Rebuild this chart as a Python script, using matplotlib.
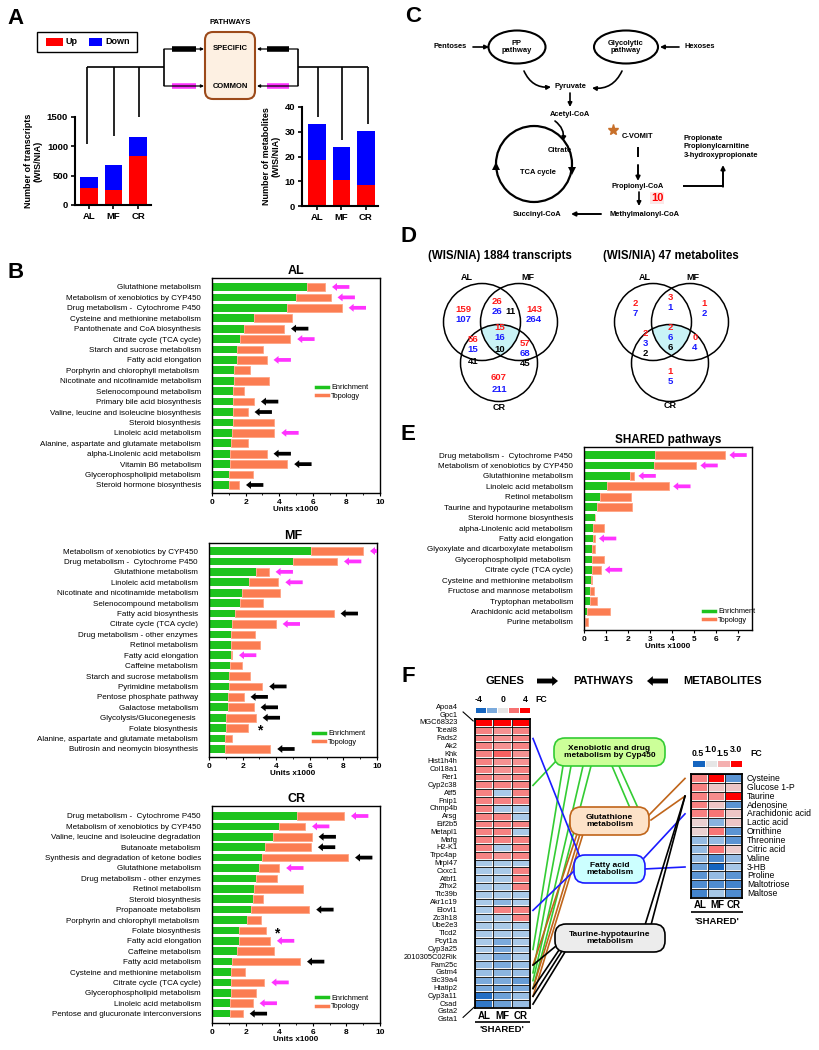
import numpy as np
import matplotlib
matplotlib.use('Agg')
import matplotlib.pyplot as plt
from matplotlib.patches import Circle, Ellipse, FancyBboxPatch, Rectangle, Polygon
from matplotlib.lines import Line2D
from matplotlib.colors import LinearSegmentedColormap
import matplotlib.transforms as mtransforms

plt.rcParams['font.family'] = ['Liberation Sans', 'DejaVu Sans']

# ---------------- DATA ----------------
groups = ['AL', 'MF', 'CR']
transcripts_up = [285, 260, 830]
transcripts_down = [190, 425, 330]
metabolites_up = [18.5, 10.5, 8.5]
metabolites_down = [14.5, 13.5, 21.8]

al_names = ['Glutathione metabolism', 'Metabolism of xenobiotics by CYP450',
            'Drug metabolism -  Cytochrome P450', 'Cysteine and methionine metabolism',
            'Pantothenate and CoA biosynthesis', 'Citrate cycle (TCA cycle)',
            'Starch and sucrose metabolism', 'Fatty acid elongation',
            'Porphyrin and chlorophyll metabolism ', 'Nicotinate and nicotinamide metabolism',
            'Selenocompound metabolism', 'Primary bile acid biosynthesis',
            'Valine, leucine and isoleucine biosynthesis', 'Steroid biosynthesis',
            'Linoleic acid metabolism', 'Alanine, aspartate and glutamate metabolism',
            'alpha-Linolenic acid metabolism', 'Vitamin B6 metabolism',
            'Glycerophospholipid metabolism', 'Steroid hormone biosynthesis']
al_enrich = [5.63, 5.0, 4.44, 2.5, 1.92, 1.67, 1.51, 1.47, 1.33, 1.29,
             1.27, 1.27, 1.23, 1.23, 1.17, 1.13, 1.07, 1.07, 1.03, 1.03]
al_topo = [1.10, 2.06, 3.28, 2.24, 2.37, 2.99, 1.51, 1.78, 0.95, 2.12,
           0.65, 1.23, 0.89, 2.46, 2.54, 1.01, 2.18, 3.41, 1.39, 0.58]
al_marks = ['m', 'm', 'm', '', 'k', 'm', '', 'm', '', '', '', 'k', 'k', '', 'm', '', 'k', 'k', '', 'k']

mf_names = ['Metabolism of xenobiotics by CYP450', 'Drug metabolism -  Cytochrome P450',
            'Glutathione metabolism', 'Linoleic acid metabolism',
            'Nicotinate and nicotinamide metabolism', 'Selenocompound metabolism',
            'Fatty acid biosynthesis', 'Citrate cycle (TCA cycle)',
            'Drug metabolism - other enzymes', 'Retinol metabolism', 'Fatty acid elongation',
            'Caffeine metabolism', 'Starch and sucrose metabolism', 'Pyrimidine metabolism',
            'Pentose phosphate pathway', 'Galactose metabolism', 'Glycolysis/Gluconegenesis ',
            'Folate biosynthesis', 'Alanine, aspartate and glutamate metabolism',
            'Butirosin and neomycin biosynthesis']
mf_enrich = [6.09, 5.0, 2.78, 2.36, 1.98, 1.83, 1.53, 1.39, 1.33, 1.33,
             1.29, 1.23, 1.19, 1.17, 1.13, 1.13, 1.03, 0.99, 0.97, 0.93]
mf_topo = [3.08, 2.62, 0.77, 1.77, 2.22, 1.38, 5.89, 2.58, 1.39, 1.69,
           0.08, 0.73, 1.27, 2.0, 0.93, 1.53, 1.75, 1.35, 0.40, 2.72]
mf_marks = ['m', 'm', 'm', 'm', '', '', 'k', 'm', '', '', 'm', '', '', 'k', 'k', 'k', 'k', '*', '', 'k']

cr_names = ['Drug metabolism -  Cytochrome P450', 'Metabolism of xenobiotics by CYP450',
            'Valine, leucine and isoleucine degradation', 'Butanoate metabolism',
            'Synthesis and degradation of ketone bodies', 'Glutathione metabolism',
            'Drug metabolism - other enzymes', 'Retinol metabolism', 'Steroid biosynthesis',
            'Propanoate metabolism', 'Porphyrin and chlorophyll metabolism ',
            'Folate biosynthesis', 'Fatty acid elongation', 'Caffeine metabolism',
            'Fatty acid metabolism', 'Cysteine and methionine metabolism',
            'Citrate cycle (TCA cycle)', 'Glycerophospholipid metabolism',
            'Linoleic acid metabolism', 'Pentose and glucuronate interconversions']
cr_enrich = [5.08, 4.0, 3.65, 3.15, 2.96, 2.82, 2.62, 2.5, 2.42, 2.32,
             2.06, 1.63, 1.61, 1.51, 1.17, 1.13, 1.13, 1.11, 1.07, 1.07]
cr_topo = [2.78, 1.54, 2.28, 2.74, 5.14, 1.18, 1.27, 2.9, 0.6, 3.47,
           0.86, 1.58, 1.84, 2.18, 4.07, 0.83, 1.99, 1.49, 1.35, 0.76]
cr_marks = ['m', 'm', 'k', 'k', 'k', 'm', '', '', '', 'k', '', '*', 'm', '', 'k', '', 'm', '', 'm', 'k']

sh_names = ['Drug metabolism -  Cytochrome P450', 'Metabolism of xenobiotics by CYP450',
            'Glutathionine metabolism', 'Linoleic acid metabolism', 'Retinol metabolism',
            'Taurine and hypotaurine metabolism', 'Steroid hormone biosynthesis',
            'alpha-Linolenic acid metabolism', 'Fatty acid elongation',
            'Glyoxylate and dicarboxylate metabolism', 'Glycerophospholipid metabolism ',
            'Citrate cycle (TCA cycle)', 'Cysteine and methionine metabolism',
            'Fructose and mannose metabolism', 'Tryptophan metabolism',
            'Arachidonic acid metabolism', 'Purine metabolism']
sh_enrich = [3.23, 3.19, 2.09, 1.07, 0.72, 0.59, 0.52, 0.41, 0.41, 0.37, 0.37, 0.35,
             0.30, 0.27, 0.26, 0.14, 0.06]
sh_topo = [3.2, 1.92, 0.2, 2.8, 1.4, 1.61, 0.0, 0.49, 0.08, 0.12, 0.53, 0.41,
           0.08, 0.17, 0.33, 1.06, 0.14]
sh_marks = ['m', 'm', 'm', 'm', '', '', '', '', 'm', '', '', 'm', '', '', '', '', '']

# Venn counts: (x, y, text, colour)
venn_tr = [(463, 309, '159', 'r'), (463, 319, '107', 'b'),
           (497, 302, '26', 'r'), (497, 312, '26', 'b'), (510, 312, '11', 'k'),
           (534, 309, '143', 'r'), (534, 319, '264', 'b'),
           (500, 328, '15', 'r'), (500, 338, '16', 'b'), (500, 349, '10', 'k'),
           (473, 340, '56', 'r'), (473, 350, '15', 'b'), (473, 361, '41', 'k'),
           (525, 343, '57', 'r'), (525, 353, '68', 'b'), (525, 363, '45', 'k'),
           (499, 378, '607', 'r'), (499, 389, '211', 'b')]
venn_met = [(635, 303, '2', 'r'), (635, 313, '7', 'b'),
            (670, 298, '3', 'r'), (670, 308, '1', 'b'),
            (704, 303, '1', 'r'), (704, 313, '2', 'b'),
            (670, 327, '2', 'r'), (670, 337, '6', 'b'), (670, 347, '6', 'k'),
            (645, 334, '2', 'r'), (645, 344, '3', 'b'), (645, 354, '2', 'k'),
            (695, 338, '0', 'r'), (695, 348, '4', 'b'),
            (670, 372, '1', 'r'), (670, 382, '5', 'b')]

gene_labels = ['Apoa4', 'Gpc1', 'MGC68323', 'Tceal8', 'Fads2', 'Ak2', 'Khk', 'Hist1h4h',
               'Col18a1', 'Rer1', 'Cyp2c38', 'Atf5', 'Fnip1', 'Chmp4b', 'Arsg', 'Eif2b5',
               'Metapl1', 'Mafg', 'H2-K1', 'Trpc4ap', 'Mrpl47', 'Cxxc1', 'Atbf1', 'Zfhx2',
               'Ttc39b', 'Akr1c19', 'Elovl1', 'Zc3h18', 'Ube2e3', 'Tlcd2', 'Pcyt1a',
               'Cyp3a25', '2010305C02Rik', 'Fam25c', 'Gstm4', 'Slc39a4', 'Htatip2',
               'Cyp3a11', 'Csad', 'Gsta2', 'Gsta1']
gene_rows = gene_labels[2:-2]
gene_fc = [
    [4, 4, 4], [2.4, 2.2, 2.4], [2.4, 2.2, 2.4], [2.4, 2.2, 2.4], [2.4, 2.8, 2.2],
    [2.4, 2.2, 2.2], [2.4, 2.2, 2.4], [2.4, 2.2, 2.4], [2.4, 2.4, 2.4], [2.4, -2, 2.4],
    [2.4, 2.4, 2.4], [2.4, -2, -2], [2.4, 2.4, -2], [2.4, 2.4, 2.4], [2.4, 2.4, -2],
    [2.4, 2.4, 2.4], [2.4, -2, 2.4], [2.4, 2.2, 2.4], [-2, -2, -2], [-2, -2, 2.4],
    [-2, -2, 2.4], [-2, -2, 2.4], [-2, -2, -2], [-2, -2.4, -2], [-2, 2.4, 2.4],
    [-2, -2, 2.4], [-2, -2, -2], [-2, -2, -2], [-2, -2.6, -2], [-2, -2.6, -2],
    [-2, -2.6, -2], [-2.2, -2.6, -2.2], [-2.2, -2.4, -2.2], [-2.6, -2.6, -2.9],
    [-2.6, -2.8, -2.6], [-3.8, -2.8, -2.2], [-3.6, -2.8, -2.2]]
gene_cbar = [-4, -2.6, 0, 2.6, 4]

met_labels = ['Cysteine', 'Glucose 1-P', 'Taurine', 'Adenosine', 'Arachidonic acid',
              'Lactic acid', 'Ornithine', 'Threonine', 'Citric acid', 'Valine', '3-HB',
              'Proline', 'Maltotriose', 'Maltose']
met_fc = [
    [1.9, 3.0, 0.62], [1.9, 1.3, 1.3], [1.9, 1.8, 3.0], [1.9, 1.3, 0.62],
    [1.9, 2.0, 1.3], [1.2, 0.7, 1.3], [1.2, 2.0, 0.62], [0.72, 0.72, 0.62],
    [0.72, 2.0, 1.25], [0.72, 0.6, 0.72], [0.65, 0.5, 0.75], [0.62, 0.72, 0.62],
    [0.6, 0.6, 0.58], [0.58, 0.75, 0.6]]
met_cbar = [0.5, 1.0, 1.5, 3.0]

xeno_genes = ['Cyp2c38', 'Cyp3a25', 'Gstm4', 'Slc39a4', 'Htatip2']
glut_genes = ['Fam25c', 'Htatip2', 'Cyp3a11']
glut_mets = ['Cysteine', 'Taurine']
fatty_genes = ['Fads2', 'Elovl1']
fatty_mets = ['Arachidonic acid', '3-HB']
taur_genes = ['Fam25c', 'Htatip2', 'Cyp3a11', 'Csad']
taur_mets = ['Taurine']

# ---------------- STYLE ----------------
GREEN = '#1ec31e'
ORANGE = '#fb7d52'
MAG = '#ff33ff'
RED = '#ff0000'
BLUE = '#0000ff'
CMAP = {'r': '#ff1a1a', 'b': '#1a1aff', 'k': 'black'}

W, H = 819, 1050
fig = plt.figure(figsize=(W / 100, H / 100), dpi=100)


def px_axes(x0, y0, x1, y1, **kw):
    return fig.add_axes([x0 / W, 1 - y1 / H, (x1 - x0) / W, (y1 - y0) / H], **kw)


ov = fig.add_axes([0, 0, 1, 1], zorder=10)
ov.set_xlim(0, W)
ov.set_ylim(H, 0)
ov.axis('off')


def T(x, y, s, size=6, weight='bold', ha='center', va='center', color='black', **kw):
    ov.text(x, y, s, fontsize=size, fontweight=weight, ha=ha, va=va, color=color, **kw)


def seg(x0, y0, x1, y1, lw=1.2, color='black', **kw):
    ov.plot([x0, x1], [y0, y1], color=color, lw=lw, solid_capstyle='butt', **kw)


def arr(x0, y0, x1, y1, lw=1.2, color='black', ms=7, rad=0.0, style='-|>'):
    ov.annotate('', xy=(x1, y1), xytext=(x0, y0), xycoords='data',
                arrowprops=dict(arrowstyle=style, lw=lw, color=color, mutation_scale=ms,
                                shrinkA=0, shrinkB=0, connectionstyle=f'arc3,rad={rad}'))


# panel letters
for lab, (x, y) in zip('ABCDEF', [(16, 18), (16, 273), (413, 17), (408, 236), (408, 434), (408, 677)]):
    T(x, y, lab, size=16)

# ---------------- PANEL A ----------------
xg = np.arange(len(groups))
for box, up, down, yl, yticks, xl, lbl in [
        ((75, 117, 151, 205), transcripts_up, transcripts_down, 1500, [0, 500, 1000, 1500], (-0.57, 2.53),
         'Number of transcripts\n(WIS/NIA)'),
        ((302, 107, 378, 206), metabolites_up, metabolites_down, 40, [0, 10, 20, 30, 40], (-0.61, 2.49),
         'Number of metabolites\n(WIS/NIA)')]:
    ax = px_axes(*box)
    ax.bar(xg, up, width=0.73, color=RED, linewidth=0)
    ax.bar(xg, down, bottom=up, width=0.73, color=BLUE, linewidth=0)
    ax.set_ylim(0, yl)
    ax.set_xlim(*xl)
    ax.set_yticks(yticks)
    ax.set_xticks(xg)
    ax.set_xticklabels(groups)
    for t in ax.get_xticklabels() + ax.get_yticklabels():
        t.set_fontweight('bold')
        t.set_fontsize(6.8)
    ax.tick_params(length=3, width=1.2, pad=2)
    for s in ['top', 'right']:
        ax.spines[s].set_visible(False)
    for s in ['left', 'bottom']:
        ax.spines[s].set_linewidth(1.5)
    ax.set_ylabel(lbl, fontsize=6.5, fontweight='bold', labelpad=3, linespacing=1.1)

# legend A
ov.add_patch(Rectangle((37, 32), 100, 20, fill=False, ec='black', lw=1))
ov.add_patch(Rectangle((46, 38), 17, 8, fc=RED, ec='none'))
ov.add_patch(Rectangle((89, 38), 13, 8, fc=BLUE, ec='none'))
T(65, 42, 'Up', size=6.5, ha='left')
T(105, 42, 'Down', size=6.5, ha='left')

# tree A
for x, yb in [(87, 144), (114, 136), (139, 117)]:
    seg(x, 67, x, yb)
seg(87, 67, 164, 67)
seg(164, 49, 164, 86)
for x, yb in [(318, 117), (342, 140), (368, 124)]:
    seg(x, 67, x, yb)
seg(298, 67, 368, 67)
seg(298, 49, 298, 86)
for y, c in [(49, 'black'), (86, MAG)]:
    arr(164, y, 204, y, lw=0.9, ms=4)
    seg(172, y, 196, y, lw=4, color=c)
    arr(298, y, 257, y, lw=0.9, ms=4)
    seg(267, y, 289, y, lw=4, color=c)
ov.add_patch(FancyBboxPatch((205, 32), 50, 67, boxstyle='round,pad=0,rounding_size=8',
                            fc='#fdf0e2', ec='#9c4a1a', lw=1.5))
T(230, 23, 'PATHWAYS', size=5.5)
T(230, 49, 'SPECIFIC', size=5.5)
T(230, 86, 'COMMON', size=5.5)


# ---------------- BAR PANELS (B, E) ----------------
def bar_panel(box, names, enr, topo, marks, xmax, xticks, minor, title, leg_anchor, ylim, gap=5,
              title_size=9):
    ax = px_axes(*box)
    y = np.arange(len(names))
    ax.barh(y, enr, height=0.74, color=GREEN, linewidth=0)
    ax.barh(y, topo, left=enr, height=0.74, color=ORANGE, edgecolor='#ffa585', linewidth=0.6)
    ax.set_ylim(*ylim)
    ax.set_xlim(0, xmax)
    ax.set_yticks(y)
    ax.set_yticklabels(names, fontsize=5.8)
    ax.tick_params(axis='y', length=0, pad=8)
    ax.set_xticks(xticks)
    ax.set_xticklabels([str(t) for t in xticks], fontsize=6, fontweight='bold')
    ax.set_xticks(minor, minor=True)
    ax.tick_params(axis='x', which='major', length=2.5, width=0.8, pad=1.5)
    ax.tick_params(axis='x', which='minor', length=1.5, width=0.6)
    ax.set_xlabel('Units x1000', fontsize=5.8, fontweight='bold', labelpad=0.5)
    ax.set_title(title, fontsize=title_size, fontweight='bold', pad=3)
    for s in ax.spines.values():
        s.set_linewidth(1.0)
    totals = np.array(enr) + np.array(topo)
    tr = mtransforms.offset_copy(ax.transData, fig=fig, x=gap, y=0, units='points')
    for i, (t, m) in enumerate(zip(totals, marks)):
        if m in ('m', 'k'):
            ann = ax.annotate('', xy=(t, i), xycoords=tr, xytext=(12.5, 0), textcoords='offset points',
                              arrowprops=dict(arrowstyle='simple,head_length=0.6,head_width=0.95,tail_width=0.45',
                                              color=MAG if m == 'm' else 'black', mutation_scale=6,
                                              shrinkA=0, shrinkB=0, lw=0))
            ann.arrow_patch.set_clip_box(ax.bbox)
            ann.arrow_patch.set_clip_on(True)
        elif m == '*':
            ax.annotate('*', xy=(t, i), xycoords='data', xytext=(8, -2), textcoords='offset points',
                        fontsize=10, fontweight='bold', va='center', ha='center')
    handles = [Line2D([], [], color=GREEN, lw=2.5), Line2D([], [], color=ORANGE, lw=2.5)]
    ax.legend(handles, ['Enrichment', 'Topology'], loc='upper left', bbox_to_anchor=leg_anchor,
              frameon=False, fontsize=5.3, handlelength=1.6, handletextpad=0.5, labelspacing=0.2,
              borderaxespad=0)
    return ax


bar_panel((212, 278, 380, 493), al_names, al_enrich, al_topo, al_marks, 10, [0, 2, 4, 6, 8, 10],
          [1, 3, 5, 7, 9], 'AL', (0.6, 0.52), (19.77, -0.86))
bar_panel((209, 543, 377, 757), mf_names, mf_enrich, mf_topo, mf_marks, 10, [0, 2, 4, 6, 8, 10],
          [1, 3, 5, 7, 9], 'MF', (0.6, 0.14), (19.77, -0.77))
bar_panel((212, 806, 380, 1023), cr_names, cr_enrich, cr_topo, cr_marks, 10, [0, 2, 4, 6, 8, 10],
          [1, 3, 5, 7, 9], 'CR', (0.6, 0.145), (19.9, -0.96))
bar_panel((584, 447, 752, 630), sh_names, sh_enrich, sh_topo, sh_marks, 7.65, list(range(8)),
          [], 'SHARED pathways', (0.69, 0.135), (16.77, -0.77), gap=3, title_size=8.5)

# ---------------- PANEL C ----------------
ov.add_patch(Ellipse((517, 47), 57, 33, fill=False, ec='black', lw=1.5))
ov.add_patch(Ellipse((626, 47), 64, 33, fill=False, ec='black', lw=1.5))
cs = 5.4
T(517, 47, 'PP\npathway', size=cs, linespacing=1.1)
T(626, 47, 'Glycolytic\npathway', size=cs, linespacing=1.1)
T(450, 47, 'Pentoses', size=cs)
T(700, 47, 'Hexoses', size=cs)
arr(473, 47, 489, 47, ms=6)
arr(679, 47, 660, 47, ms=6)
arr(524, 71, 551, 87, rad=0.35, ms=6)
arr(622, 71, 592, 88, rad=-0.35, ms=6)
T(570, 87, 'Pyruvate', size=cs)
arr(570, 93, 570, 107, ms=6)
T(570, 114, 'Acetyl-CoA', size=cs)
ov.add_patch(Circle((534, 164), 38, fill=False, ec='black', lw=1.6))
arr(555, 121, 563, 141, rad=-0.3, ms=6)
T(560, 151, 'Citrate', size=cs)
T(538, 172, 'TCA cycle', size=cs)
ov.add_patch(Polygon([(568, 167), (576, 167), (572, 175)], closed=True, fc='black', ec='none'))
ov.add_patch(Polygon([(492, 170), (500, 170), (496, 162)], closed=True, fc='black', ec='none'))
ov.plot([613], [130], marker='*', ms=8, color='#c8702a', mec='#c8702a')
T(638, 137, 'C-VOMIT', size=cs)
seg(638, 147, 638, 157, lw=1.4)
arr(638, 165, 638, 181, ms=6, lw=1.4)
T(638, 186, 'Propionyl-CoA', size=cs)
arr(639, 192, 639, 206, ms=6)
T(657, 198, '10', size=8, color='#ff0000',
  bbox=dict(boxstyle='square,pad=0.1', fc='#fde6e6', ec='none'))
T(645, 214, 'Methylmalonyl-CoA', size=cs)
arr(601, 214, 571, 214, ms=6, lw=1.4)
T(537, 214, 'Succinyl-CoA', size=cs)
seg(683, 186, 723, 186, lw=1.4)
arr(723, 186.7, 723, 165, ms=6, lw=1.4)
T(684, 147, 'Propionate\nPropionylcarnitine\n3-hydroxypropionate', size=cs, ha='left', linespacing=1.3)

# ---------------- PANEL D ----------------
def tri_intersection(centers, r, n=1440):
    pts = []
    th = np.linspace(0, 2 * np.pi, n, endpoint=False)
    for k, c in enumerate(centers):
        p = np.c_[c[0] + r * np.cos(th), c[1] + r * np.sin(th)]
        mask = np.ones(n, bool)
        for j, c2 in enumerate(centers):
            if j != k:
                mask &= np.hypot(p[:, 0] - c2[0], p[:, 1] - c2[1]) <= r + 1e-9
        pts.append(p[mask])
    pts = np.vstack(pts)
    cen = pts.mean(0)
    ang = np.arctan2(pts[:, 1] - cen[1], pts[:, 0] - cen[0])
    return pts[np.argsort(ang)]


for (cx, cy), title, counts, labs in [
        ((500, 343), '(WIS/NIA) 1884 transcripts', venn_tr, [(467, 277), (528, 277), (499, 407)]),
        ((671, 343), '(WIS/NIA) 47 metabolites', venn_met, [(645, 277), (693, 277), (670, 406)])]:
    r = 38.5
    centers = [(cx - 18, cy - 21), (cx + 19, cy - 21), (cx - 1, cy + 20)]
    ov.add_patch(Polygon(tri_intersection(centers, r), closed=True, fc='#c9f3f6', ec='none'))
    for c in centers:
        ov.add_patch(Circle(c, r, fill=False, ec='black', lw=1.1))
    T(cx, 256, title, size=8.3)
    for (x, y), s in zip(labs, ['AL', 'MF', 'CR']):
        T(x, y, s, size=6.5)
    for x, y, s, c in counts:
        T(x, y, s, size=6.8, color=CMAP[c])

# ---------------- PANEL F ----------------
T(505, 681, 'GENES', size=8)
T(603, 681, 'PATHWAYS', size=8)
T(723, 681, 'METABOLITES', size=8)
for x0, x1 in [(537, 558), (668, 647)]:
    ov.annotate('', xy=(x1, 681), xytext=(x0, 681),
                arrowprops=dict(arrowstyle='simple,head_length=0.6,head_width=1.0,tail_width=0.5',
                                color='black', mutation_scale=7, shrinkA=0, shrinkB=0, lw=0))

cmap_g = LinearSegmentedColormap.from_list('g', [(0, '#1565c0'), (0.25, '#a9c9e8'), (0.5, '#e6e6e6'),
                                                 (0.75, '#f4a3a3'), (1, '#ff0000')])
cmap_m = LinearSegmentedColormap.from_list('m', [(0, '#1565c0'), (0.1, '#a9c9e8'), (0.2, '#e6e6e6'),
                                                 (0.4, '#f4b0b0'), (1, '#ff0000')])


def heat(ax, vals, cmap, vmin, vmax):
    a = np.array(vals)
    ax.pcolormesh(a, cmap=cmap, vmin=vmin, vmax=vmax, edgecolors='#f4f4f4', linewidth=1.3)
    for k in range(a.shape[0] + 1):
        ax.axhline(k, color='black', lw=0.6)
    for k in range(a.shape[1] + 1):
        ax.axvline(k, color='black', lw=0.6)
    ax.set_xlim(0, a.shape[1])
    ax.set_ylim(a.shape[0], 0)
    ax.set_xticks([])
    ax.set_yticks([])
    for s in ax.spines.values():
        s.set_linewidth(1.3)


axG = px_axes(475, 719, 530, 1008)
heat(axG, gene_fc, cmap_g, -4, 4)
for i, name in enumerate(gene_labels):
    axG.text(-0.95, i - 2 + 0.5, name, ha='right', va='center', fontsize=5.4, clip_on=False)
axG.plot([-0.65, -0.1], [-0.9, 0.25], color='black', lw=0.8, clip_on=False)
axG.plot([-0.65, -0.05], [38.2, 36.9], color='black', lw=0.8, clip_on=False)

axGc = px_axes(475, 707, 530, 713)
axGc.pcolormesh(np.array([gene_cbar]), cmap=cmap_g, vmin=-4, vmax=4, edgecolors='white', linewidth=0.5)
axGc.axis('off')
for x, s in [(479, '-4'), (503, '0'), (525, '4'), (541, 'FC')]:
    T(x, 699, s, size=6.3)

axM = px_axes(691, 774, 742, 898)
heat(axM, met_fc, cmap_m, 0.5, 3.0)
for i, name in enumerate(met_labels):
    axM.text(3.3, i + 0.5, name, ha='left', va='center', fontsize=6.2, clip_on=False)

axMc = px_axes(692, 760, 742, 767)
axMc.pcolormesh(np.array([met_cbar]), cmap=cmap_m, vmin=0.5, vmax=3.0, edgecolors='white', linewidth=0.5)
axMc.axis('off')
for x, y, s in [(698, 754, '0.5'), (711, 749, '1.0'), (723, 754, '1.5'), (736, 749, '3.0'), (756, 754, 'FC')]:
    T(x, y, s, size=6.3)

for xs, y_lab, y_line, y_sh in [((484, 502, 521), 1016, 1022, 1030), ((700, 717, 734), 905, 912, 921)]:
    for x, g in zip(xs, groups):
        T(x, y_lab, g, size=7)
    seg(xs[0] - 9, y_line, xs[2] + 9, y_line, lw=1.2)
    T(xs[1], y_sh, "'SHARED'", size=6.8)


def to_ov(ax, x, y):
    d = ax.transData.transform((x, y))
    return ov.transData.inverted().transform(d)


def gene_pt(name):
    x, y = to_ov(axG, 3, gene_rows.index(name) + 0.5)
    return x + 3, y


def met_pt(name):
    x, y = to_ov(axM, 0, met_labels.index(name) + 0.5)
    return x - 6, y


def link(p, q, color):
    ov.plot([p[0], q[0]], [p[1], q[1]], color=color, lw=1.2, zorder=1)


GL = '#33cc33'
BR = '#c0651a'
BL = '#1a1aff'
xeno_anchor = [(557, 760), (563, 766), (571, 766), (583, 766), (591, 766)]
for g, a in zip(xeno_genes, xeno_anchor):
    link(gene_pt(g), a, GL)
link((612, 766), (630, 808), GL)
link((619, 766), (638, 808), GL)
glut_gene_anchor = [(577, 834), (580, 834), (583, 834)]
for g, a in zip(glut_genes, glut_gene_anchor):
    link(gene_pt(g), a, BR)
for m, a in zip(glut_mets, [(649, 815), (651, 820)]):
    link(a, met_pt(m), BR)
for g, a in zip(fatty_genes, [(580, 857), (575, 870)]):
    link(gene_pt(g), a, BL)
for m, a in zip(fatty_mets, [(644, 858), (644, 869)]):
    link(a, met_pt(m), BL)
for g, a in zip(taur_genes, [(556, 946), (559, 950), (562, 951), (565, 952)]):
    link(gene_pt(g), a, 'black')
for m in taur_mets:
    link(met_pt(m), (645, 925), 'black')
    link(met_pt(m), (651, 925), 'black')

for (x0, y0, x1, y1), txt, fc, ec in [
        ((554, 738, 665, 766), 'Xenobiotic and drug\nmetabolism by Cyp450', '#ccff99', '#33cc33'),
        ((570, 807, 649, 835), 'Glutathione\nmetabolism', '#fde2c8', '#c0651a'),
        ((574, 855, 645, 883), 'Fatty acid\nmetabolism', '#ccffff', '#1a1aff'),
        ((555, 924, 665, 952), 'Taurine-hypotaurine\nmetabolism', '#ececec', 'black')]:
    ov.add_patch(FancyBboxPatch((x0, y0), x1 - x0, y1 - y0, boxstyle='round,pad=0,rounding_size=11',
                                fc=fc, ec=ec, lw=1.2, zorder=3))
    T((x0 + x1) / 2, (y0 + y1) / 2, txt, size=6, linespacing=1.15, zorder=4)

fig.savefig('out.png', dpi=100)
